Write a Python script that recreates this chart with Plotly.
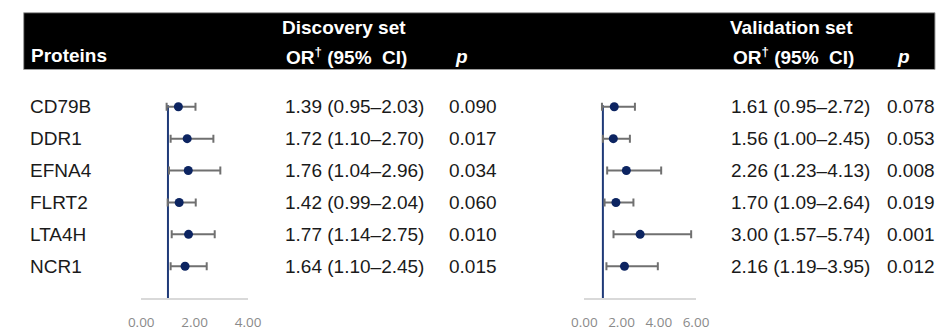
import plotly.graph_objects as go

W, H = 949, 331

proteins = ["CD79B", "DDR1", "EFNA4", "FLRT2", "LTA4H", "NCR1"]

disc_or = [1.39, 1.72, 1.76, 1.42, 1.77, 1.64]
disc_lo = [0.95, 1.10, 1.04, 0.99, 1.14, 1.10]
disc_hi = [2.03, 2.70, 2.96, 2.04, 2.75, 2.45]
disc_p = ["0.090", "0.017", "0.034", "0.060", "0.010", "0.015"]

val_or = [1.61, 1.56, 2.26, 1.70, 3.00, 2.16]
val_lo = [0.95, 1.00, 1.23, 1.09, 1.57, 1.19]
val_hi = [2.72, 2.45, 4.13, 2.64, 5.74, 3.95]
val_p = ["0.078", "0.053", "0.008", "0.019", "0.001", "0.012"]

disc_ticks = [0, 2, 4]
disc_ticklabels = ["0.00", "2.00", "4.00"]
val_ticks = [0, 2, 4, 6]
val_ticklabels = ["0.00", "2.00", "4.00", "6.00"]

ref_value = 1

n = len(proteins)
ypos = [n - i for i in range(n)]  # CD79B at top


def px(x):
    return x / W


def py(y):
    return 1 - y / H


MARKER = "#0c2461"
ERR = "#707070"
REFLINE = "#1f3a78"
TXT = "#1a1a1a"
FONT = "Liberation Sans, Arial, sans-serif"

fig = go.Figure()


def ci_text(o, l, h):
    return f"{o:.2f} ({l:.2f}\u2013{h:.2f})"


for (orv, lo, hi, xa, ya) in [
    (disc_or, disc_lo, disc_hi, "x", "y"),
    (val_or, val_lo, val_hi, "x2", "y2"),
]:
    fig.add_trace(go.Scatter(
        x=orv, y=ypos, mode="markers", xaxis=xa, yaxis=ya,
        marker=dict(color=MARKER, size=9),
        error_x=dict(type="data", symmetric=False,
                     array=[h - o for h, o in zip(hi, orv)],
                     arrayminus=[o - l for o, l in zip(orv, lo)],
                     color=ERR, thickness=2, width=4),
        showlegend=False, cliponaxis=False,
    ))

ydom = [py(304.6), py(96)]
yrange = [0, 6.4]

axis_common = dict(showline=True, linecolor="#d9d9d9", linewidth=2,
                   showgrid=False, zeroline=False, ticks="",
                   tickfont=dict(family="Open Sans, sans-serif", size=13.5, color="#8a8a8a"),
                   ticklabelstandoff=11, fixedrange=True)

fig.update_layout(
    width=W, height=H,
    margin=dict(l=0, r=0, t=0, b=0),
    plot_bgcolor="white", paper_bgcolor="white",
    xaxis=dict(domain=[px(132), px(242)], range=[0, 4], anchor="y",
               tickvals=disc_ticks, ticktext=disc_ticklabels, **axis_common),
    yaxis=dict(domain=ydom, range=yrange, visible=False, anchor="x", fixedrange=True),
    xaxis2=dict(domain=[px(588), px(703)], range=[0, 6], anchor="y2",
                tickvals=val_ticks, ticktext=val_ticklabels, **axis_common),
    yaxis2=dict(domain=ydom, range=yrange, visible=False, anchor="x2", fixedrange=True),
)

shapes = [
    dict(type="rect", xref="paper", yref="paper", x0=px(11), x1=px(949), y0=py(71), y1=py(13),
         fillcolor="black", line=dict(color="#a0a0a0", width=1), layer="below"),
    dict(type="line", xref="x", yref="y", x0=ref_value, x1=ref_value, y0=0, y1=6.05,
         line=dict(color=REFLINE, width=2), layer="below"),
    dict(type="line", xref="x2", yref="y2", x0=ref_value, x1=ref_value, y0=0, y1=6.05,
         line=dict(color=REFLINE, width=2), layer="below"),
]
fig.update_layout(shapes=shapes)

ann = []
hdr = dict(family=FONT, size=19, color="white")


def hdr_text(text, x, y, anchor):
    ann.append(dict(text=text, x=px(x), y=py(y), xref="paper", yref="paper",
                    xanchor=anchor, yanchor="middle", showarrow=False, font=hdr))


hdr_text("<b>Proteins</b>", 16, 57, "left")
hdr_text("<b>Discovery set</b>", 407, 28, "right")
hdr_text("<b>OR<sup>\u2020</sup> (95%\u00a0 CI)</b>", 408, 57, "right")
hdr_text("<b><i>p</i></b>", 462, 58, "center")
hdr_text("<b>Validation set</b>", 867, 28, "right")
hdr_text("<b>OR<sup>\u2020</sup> (95%\u00a0 CI)</b>", 868, 57, "right")
hdr_text("<b><i>p</i></b>", 917, 58, "center")

body = dict(family=FONT, size=19, color=TXT)
for i in range(n):
    y = ypos[i]
    for text, x in [
        (proteins[i], 15),
        (ci_text(disc_or[i], disc_lo[i], disc_hi[i]), 278),
        (disc_p[i], 447),
        (ci_text(val_or[i], val_lo[i], val_hi[i]), 737),
        (val_p[i], 898),
    ]:
        ann.append(dict(text=text, x=px(x), y=y, xref="paper", yref="y",
                        xanchor="left", yanchor="middle", showarrow=False, font=body))

fig.update_layout(annotations=ann)

fig.write_html(
    "out.html",
    config={"displayModeBar": False, "staticPlot": True},
    post_script="document.body.style.margin='0';document.body.style.padding='0';"
                "document.body.style.overflow='hidden';"
                "document.documentElement.style.overflow='hidden';",
)
